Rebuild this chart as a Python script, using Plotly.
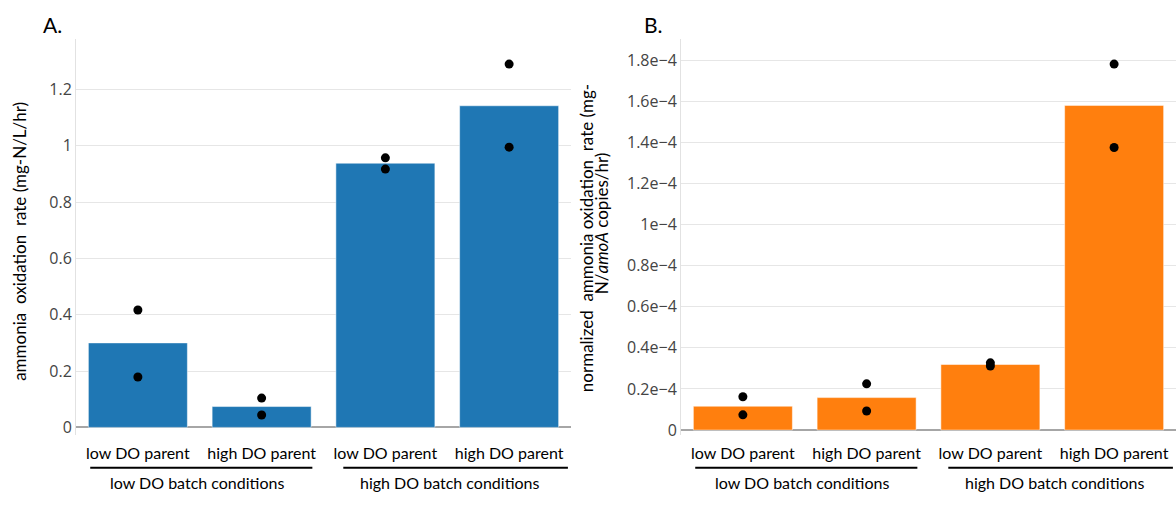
import plotly.graph_objects as go
from plotly.subplots import make_subplots

# ---- data ----
parents = ["low DO parent", "high DO parent", "low DO parent", "high DO parent"]
conditions = ["low DO batch conditions", "high DO batch conditions"]

rate_mean = [0.300, 0.074, 0.938, 1.142]
rate_rep1 = [0.417, 0.104, 0.957, 1.290]
rate_rep2 = [0.179, 0.044, 0.917, 0.995]

norm_mean = [0.116e-4, 0.158e-4, 0.319e-4, 1.580e-4]
norm_rep1 = [0.162e-4, 0.225e-4, 0.327e-4, 1.781e-4]
norm_rep2 = [0.074e-4, 0.093e-4, 0.312e-4, 1.375e-4]

xpos = list(range(len(parents)))

LABEL_FONT = "Lato, 'Open Sans', sans-serif"
TICK_FONT = "'Open Sans', verdana, arial, sans-serif"

fig = make_subplots(rows=1, cols=2, horizontal_spacing=0.1)

panels = [
    (1, rate_mean, rate_rep1, rate_rep2, "#1f77b4"),
    (2, norm_mean, norm_rep1, norm_rep2, "#ff7f0e"),
]
for col, mean, r1, r2, color in panels:
    fig.add_trace(go.Bar(x=xpos, y=mean, marker=dict(color=color, line=dict(color="white", width=0.5)),
                         showlegend=False, hoverinfo="y"), row=1, col=col)
    fig.add_trace(go.Scatter(x=xpos + xpos, y=r1 + r2, mode="markers",
                             marker=dict(color="black", size=9), showlegend=False),
                  row=1, col=col)

fig.update_layout(
    width=1176, height=514,
    template="none",
    paper_bgcolor="white", plot_bgcolor="white",
    margin=dict(l=76, r=0, t=39, b=79),
    bargap=0.2,
    showlegend=False,
)

for i, ax in enumerate(["xaxis", "xaxis2"]):
    fig.layout[ax].update(
        domain=[0, 0.45] if i == 0 else [0.55, 1.0],
        range=[-0.5, 3.5],
        tickmode="array", tickvals=xpos, ticktext=parents,
        showgrid=False, zeroline=False, showline=False, ticks="",
        tickfont=dict(family=LABEL_FONT, size=16, color="black"),
        ticklabelstandoff=7,
    )

common_y = dict(
    showgrid=True, gridcolor="#e6e6e6", gridwidth=1,
    zeroline=True, zerolinecolor="#a6a6a6", zerolinewidth=2,
    showline=True, linecolor="#e2e2e2", linewidth=1,
    ticks="", tickfont=dict(family=TICK_FONT, size=16, color="#444"),
)
fig.update_layout(
    yaxis=dict(range=[-0.027, 1.379], dtick=0.2, **common_y),
    yaxis2=dict(range=[-0.024e-4, 1.903e-4], dtick=0.2e-4, exponentformat="e", **common_y),
)

# group underline lines and group labels
for xref in ["x", "x2"]:
    for (x0, x1) in [(-0.385, 1.41), (1.66, 3.475)]:
        fig.add_shape(type="line", xref=xref, yref="paper", x0=x0, x1=x1,
                      y0=-0.083, y1=-0.083, line=dict(color="black", width=2))
    for cx, text in zip([0.48, 2.52], conditions):
        fig.add_annotation(xref=xref, yref="paper", x=cx, y=-0.12, text=text,
                           showarrow=False, yanchor="middle",
                           font=dict(family=LABEL_FONT, size=16, color="black"))

# panel letters
fig.add_annotation(xref="paper", yref="paper", x=-0.021, y=1.0, yshift=14.5, text="A.",
                   xanchor="center", yanchor="middle",
                   showarrow=False, font=dict(family=LABEL_FONT, size=21, color="black"))
fig.add_annotation(xref="paper", yref="paper", x=0.525, y=1.0, yshift=14.5, text="B.",
                   xanchor="center", yanchor="middle",
                   showarrow=False, font=dict(family=LABEL_FONT, size=21, color="black"))

# y axis titles
fig.add_annotation(xref="paper", yref="paper", x=-0.051, y=0.49, textangle=-90,
                   xanchor="center", yanchor="middle",
                   text="ammonia  oxidation  rate (mg-N/L/hr)", showarrow=False,
                   font=dict(family=LABEL_FONT, size=17, color="black"))
fig.add_annotation(xref="paper", yref="paper", x=0.4636, y=0.497, textangle=-90,
                   xanchor="center", yanchor="middle",
                   text="normalized  ammonia oxidation  rate (mg-", showarrow=False,
                   font=dict(family=LABEL_FONT, size=17, color="black"))
fig.add_annotation(xref="paper", yref="paper", x=0.4773, y=0.535, textangle=-90,
                   xanchor="center", yanchor="middle",
                   text="N/<i>amoA</i> copies/hr)", showarrow=False,
                   font=dict(family=LABEL_FONT, size=17, color="black"))

fig.write_html("out.html")
